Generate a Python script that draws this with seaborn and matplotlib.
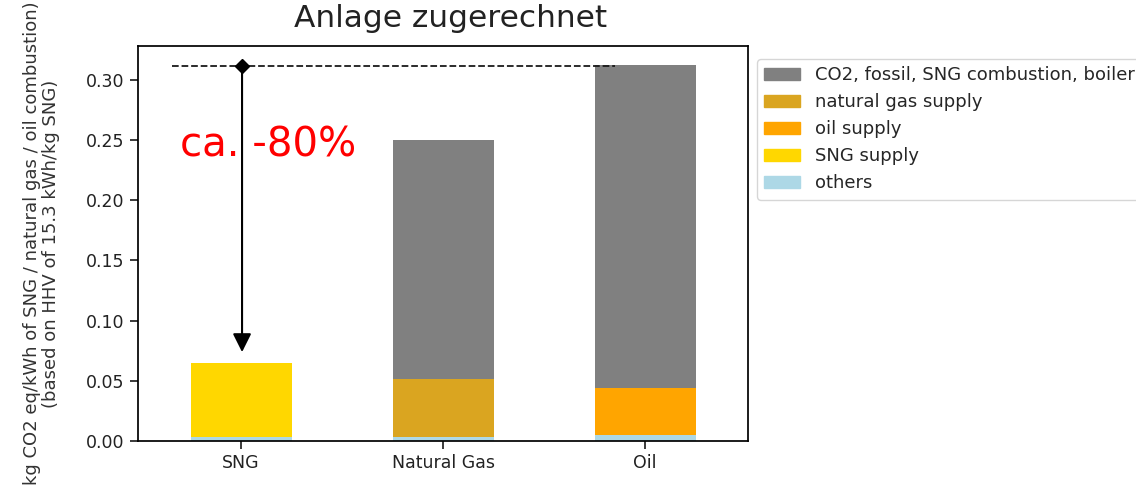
import numpy as np
import pandas as pd
import seaborn as sns
import matplotlib.pyplot as plt
from matplotlib.patches import Patch

fuels = ["SNG", "Natural Gas", "Oil"]

# stacked contributions, bottom to top
others = [0.003, 0.0035, 0.005]
sng_supply = [0.062, 0.0, 0.0]
oil_supply = [0.0, 0.0, 0.039]
ng_supply = [0.0, 0.048, 0.0]
co2_fossil = [0.0, 0.1985, 0.2685]

layers = [
    ("others", others, "lightblue"),
    ("SNG supply", sng_supply, "gold"),
    ("oil supply", oil_supply, "orange"),
    ("natural gas supply", ng_supply, "goldenrod"),
    ("CO2, fossil, SNG combustion, boiler", co2_fossil, "gray"),
]

reference_level = 0.311
arrow_end = 0.0715

sns.set_theme(style="ticks")
plt.rcParams["font.family"] = ["DejaVu Sans"]
plt.rcParams["axes.edgecolor"] = "black"

fig = plt.figure(figsize=(11.36, 4.92), dpi=100)
ax = fig.add_axes([0.1215, 0.1037, 0.537, 0.8028])

bottom = np.zeros(len(fuels))
for name, vals, col in layers:
    df = pd.DataFrame({"fuel": fuels, "value": vals})
    sns.barplot(data=df, x="fuel", y="value", color=col, bottom=bottom,
                width=0.5, ax=ax, saturation=1, linewidth=0)
    bottom = bottom + np.array(vals)

ax.set_xlim(-0.51, 2.51)
ax.set_ylim(0, 0.328)
ax.set_yticks(np.arange(0, 0.31, 0.05))
ax.tick_params(labelsize=12.5, colors="#222222")
ax.set_xlabel("")
ax.set_ylabel("kg CO2 eq/kWh of SNG / natural gas / oil combustion)\n(based on HHV of 15.3 kWh/kg SNG)",
              fontsize=13, color="#333333", labelpad=19, linespacing=1.1)
for s in ax.spines.values():
    s.set_visible(True)
    s.set_color("black")

# reference line and reduction arrow
ax.plot([-0.34, 1.85], [reference_level, reference_level], "k--", lw=1.3)
ax.plot([0.005], [reference_level], marker="D", color="black", ms=7)
ax.annotate("", xy=(0.005, arrow_end), xytext=(0.005, reference_level),
            arrowprops=dict(arrowstyle="-|>", color="black", lw=1.5, mutation_scale=28))
ax.text(-0.3, 0.245, "ca. -80%", color="red", fontsize=29, va="center", ha="left")

handles = [Patch(color=col, label=name) for name, vals, col in layers[::-1]]
ax.legend(handles=handles, loc="upper left", bbox_to_anchor=(1.0, 0.99),
          fontsize=13, frameon=True, handlelength=2, borderaxespad=0.5)

fig.text(0.397, 0.945, "Anlage zugerechnet", fontsize=22.5, ha="center", va="baseline", color="#222222")

fig.savefig("out.png", dpi=100)
